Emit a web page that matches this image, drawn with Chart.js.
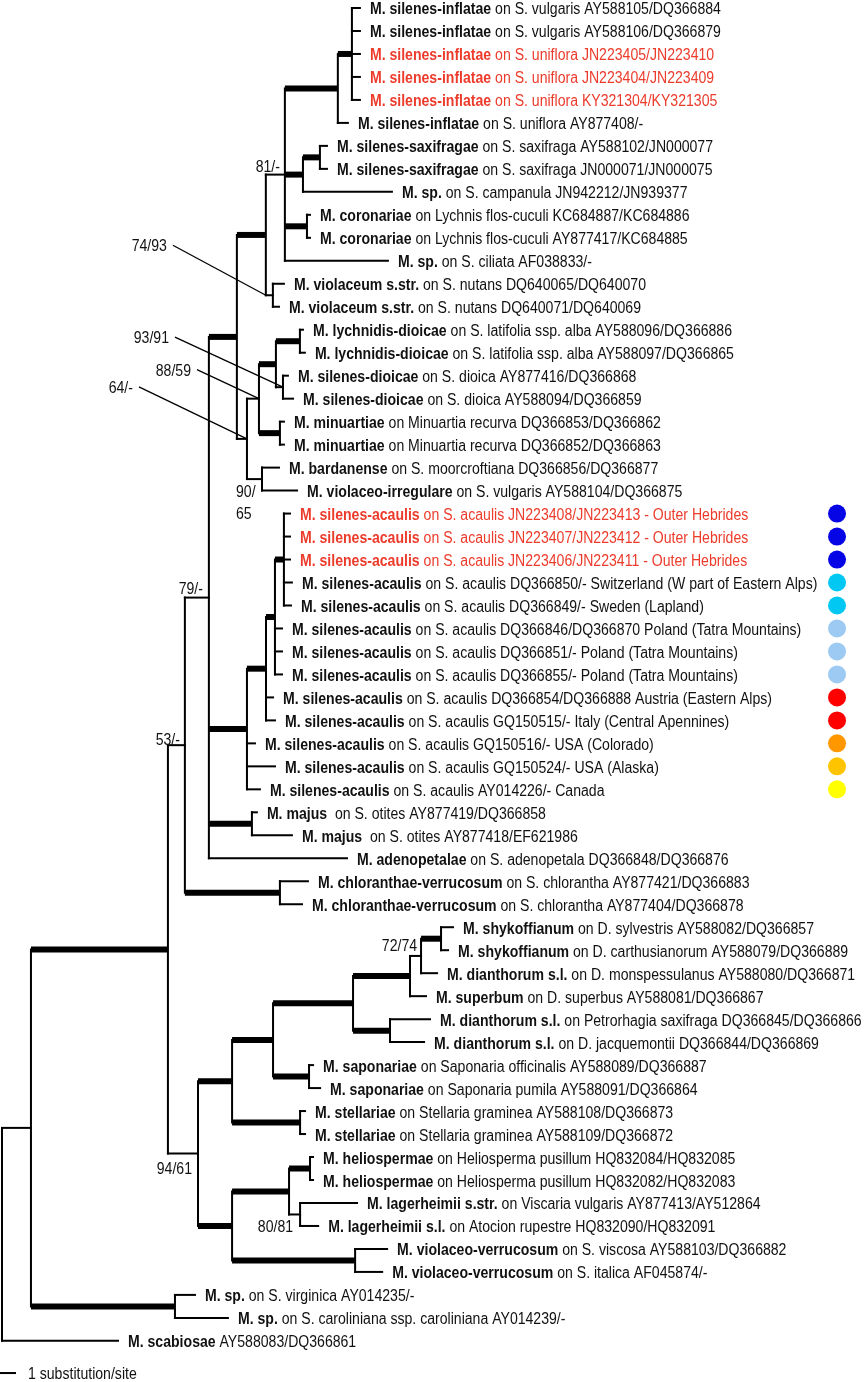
<!DOCTYPE html>
<html>
<head>
<meta charset="utf-8">
<script src="https://cdn.jsdelivr.net/npm/chart.js@4.4.1/dist/chart.umd.min.js"></script>
<style>
  html, body { margin: 0; padding: 0; background: #fff; }
  #wrap { width: 864px; height: 1382px; }
</style>
</head>
<body>
<div id="wrap"><canvas id="tree" width="864" height="1382"></canvas></div>
<script>
// ---- tips, top to bottom ----
const tipTaxon = [
  'M. silenes-inflatae', 'M. silenes-inflatae', 'M. silenes-inflatae', 'M. silenes-inflatae', 'M. silenes-inflatae',
  'M. silenes-inflatae', 'M. silenes-saxifragae', 'M. silenes-saxifragae', 'M. sp.', 'M. coronariae',
  'M. coronariae', 'M. sp.', 'M. violaceum s.str.', 'M. violaceum s.str.', 'M. lychnidis-dioicae',
  'M. lychnidis-dioicae', 'M. silenes-dioicae', 'M. silenes-dioicae', 'M. minuartiae', 'M. minuartiae',
  'M. bardanense', 'M. violaceo-irregulare', 'M. silenes-acaulis', 'M. silenes-acaulis', 'M. silenes-acaulis',
  'M. silenes-acaulis', 'M. silenes-acaulis', 'M. silenes-acaulis', 'M. silenes-acaulis', 'M. silenes-acaulis',
  'M. silenes-acaulis', 'M. silenes-acaulis', 'M. silenes-acaulis', 'M. silenes-acaulis', 'M. silenes-acaulis',
  'M. majus', 'M. majus', 'M. adenopetalae', 'M. chloranthae-verrucosum', 'M. chloranthae-verrucosum',
  'M. shykoffianum', 'M. shykoffianum', 'M. dianthorum s.l.', 'M. superbum', 'M. dianthorum s.l.',
  'M. dianthorum s.l.', 'M. saponariae', 'M. saponariae', 'M. stellariae', 'M. stellariae',
  'M. heliospermae', 'M. heliospermae', 'M. lagerheimii s.str.', 'M. lagerheimii s.l.', 'M. violaceo-verrucosum',
  'M. violaceo-verrucosum', 'M. sp.', 'M. sp.', 'M. scabiosae'
];
const tipDetail = [
  ' on S. vulgaris AY588105/DQ366884', ' on S. vulgaris AY588106/DQ366879',
  ' on S. uniflora JN223405/JN223410', ' on S. uniflora JN223404/JN223409',
  ' on S. uniflora KY321304/KY321305', ' on S. uniflora AY877408/-',
  ' on S. saxifraga AY588102/JN000077', ' on S. saxifraga JN000071/JN000075',
  ' on S. campanula JN942212/JN939377', ' on Lychnis flos-cuculi KC684887/KC684886',
  ' on Lychnis flos-cuculi AY877417/KC684885', ' on S. ciliata AF038833/-',
  ' on S. nutans DQ640065/DQ640070', ' on S. nutans DQ640071/DQ640069',
  ' on S. latifolia ssp. alba AY588096/DQ366886', ' on S. latifolia ssp. alba AY588097/DQ366865',
  ' on S. dioica AY877416/DQ366868', ' on S. dioica AY588094/DQ366859',
  ' on Minuartia recurva DQ366853/DQ366862', ' on Minuartia recurva DQ366852/DQ366863',
  ' on S. moorcroftiana DQ366856/DQ366877', ' on S. vulgaris AY588104/DQ366875',
  ' on S. acaulis JN223408/JN223413 - Outer Hebrides', ' on S. acaulis JN223407/JN223412 - Outer Hebrides',
  ' on S. acaulis JN223406/JN223411 - Outer Hebrides', ' on S. acaulis DQ366850/- Switzerland (W part of Eastern Alps)',
  ' on S. acaulis DQ366849/- Sweden (Lapland)', ' on S. acaulis DQ366846/DQ366870 Poland (Tatra Mountains)',
  ' on S. acaulis DQ366851/- Poland (Tatra Mountains)', ' on S. acaulis DQ366855/- Poland (Tatra Mountains)',
  ' on S. acaulis DQ366854/DQ366888 Austria (Eastern Alps)', ' on S. acaulis GQ150515/- Italy (Central Apennines)',
  ' on S. acaulis GQ150516/- USA (Colorado)', ' on S. acaulis GQ150524/- USA (Alaska)',
  ' on S. acaulis AY014226/- Canada', '  on S. otites AY877419/DQ366858',
  '  on S. otites AY877418/EF621986', ' on S. adenopetala DQ366848/DQ366876',
  ' on S. chlorantha AY877421/DQ366883', ' on S. chlorantha AY877404/DQ366878',
  ' on D. sylvestris AY588082/DQ366857', ' on D. carthusianorum AY588079/DQ366889',
  ' on D. monspessulanus AY588080/DQ366871', ' on D. superbus AY588081/DQ366867',
  ' on Petrorhagia saxifraga DQ366845/DQ366866', ' on D. jacquemontii DQ366844/DQ366869',
  ' on Saponaria officinalis AY588089/DQ366887', ' on Saponaria pumila AY588091/DQ366864',
  ' on Stellaria graminea AY588108/DQ366873', ' on Stellaria graminea AY588109/DQ366872',
  ' on Heliosperma pusillum HQ832084/HQ832085', ' on Heliosperma pusillum HQ832082/HQ832083',
  ' on Viscaria vulgaris AY877413/AY512864', ' on Atocion rupestre HQ832090/HQ832091',
  ' on S. viscosa AY588103/DQ366882', ' on S. italica AF045874/-',
  ' on S. virginica AY014235/-', ' on S. caroliniana ssp. caroliniana AY014239/-',
  ' AY588083/DQ366861'
];
// parent node of each tip and its branch length (substitutions/site)
const tipParent = [
  'N', 'N', 'N', 'N', 'N', 'K', 'O', 'O', 'L', 'Cor', 'Cor', 'J', 'Vio', 'Vio', 'T', 'T', 'U', 'U', 'V', 'V',
  'R', 'R', 'Z', 'Z', 'Z', 'Z', 'Z', 'Y', 'Y', 'Y', 'X', 'X', 'W', 'W', 'W', 'Maj', 'Maj', 'F', 'G', 'G',
  'FF', 'FF', 'EE', 'DD', 'GG', 'GG', 'HH', 'HH', 'II', 'II', 'LL', 'LL', 'MM', 'MM', 'NN', 'NN', 'C', 'C', 'root'
];
const tipLength = [
  0.5, 0.5, 0.5, 0.5, 0.5, 0.63, 0.44, 0.44, 5.56, 0.19, 0.19, 6.44, 0.69, 0.38, 0.19, 0.31, 0.31, 0.63, 0.25, 0.25,
  1.06, 2.19, 0.38, 0.38, 0.38, 0.5, 0.44, 0.44, 0.44, 0.44, 0.44, 0.56, 0.5, 1.75, 0.81, 0.31, 2.5, 8.63, 1.75, 1.38,
  0.75, 0.44, 1.0, 1.0, 2.5, 2.13, 0.25, 0.69, 0.31, 0.31, 0.19, 0.19, 3.56, 1.13, 2.0, 1.69, 1.25, 3.31, 7.25
];
// sequences new in this study (red)
const newTips = [2, 3, 4, 22, 23, 24];

// ---- internal nodes (parents listed before children) ----
const nodeId = ['root', 'A', 'B', 'C', 'D', 'E', 'F', 'G', 'H', 'I', 'J', 'K', 'N', 'L', 'O', 'Cor', 'Vio',
  'P', 'Q', 'R', 'S', 'T', 'U', 'V', 'W', 'X', 'Y', 'Z', 'Maj', 'AA', 'BB', 'CC', 'DD', 'EE', 'FF', 'GG',
  'HH', 'II', 'JJ', 'KK', 'LL', 'MM', 'NN'];
const nodeParent = [null, 'root', 'A', 'A', 'B', 'B', 'D', 'D', 'F', 'H', 'I', 'J', 'K', 'J', 'L', 'J', 'I',
  'H', 'P', 'P', 'Q', 'S', 'S', 'Q', 'F', 'W', 'X', 'Y', 'F', 'E', 'AA', 'BB', 'CC', 'DD', 'EE', 'CC',
  'BB', 'AA', 'E', 'JJ', 'KK', 'KK', 'JJ'];
const nodeLength = [0, 1.81, 8.56, 9.0, 1.06, 1.88, 1.5, 5.94, 1.75, 1.81, 1.19, 3.31, 0.88, 1.13, 1.06, 1.38, 0.44,
  0.63, 0.75, 0.94, 1.06, 1.5, 0.44, 1.31, 2.38, 1.19, 0.56, 0.56, 2.69, 2.13, 2.56, 5.0, 3.56, 0.69, 1.25, 2.31,
  2.25, 4.25, 2.13, 3.56, 1.31, 0.69, 7.69];
// strongly supported branches (thick)
const nodeStrong = [0, 0, 1, 1, 0, 0, 0, 1, 1, 1, 0, 1, 1, 1, 1, 1, 0,
  0, 0, 0, 1, 1, 0, 1, 1, 1, 1, 1, 1, 1, 1, 1, 1, 0, 1, 1,
  1, 1, 1, 1, 1, 0, 1];

// ---- support values ----
const supportNode = ['J', 'Vio', 'U', 'Q', 'P', 'R', 'F', 'D', 'EE', 'E', 'MM'];
const supportText = ['81/-', '74/93', '93/91', '88/59', '64/-', '90/\n65', '79/-', '53/-', '72/74', '94/61', '80/81'];

// ---- host region of the S. acaulis samples ----
const regionTips = [22, 23, 24, 25, 26, 27, 28, 29, 30, 31, 32, 33, 34];
const regionColors = ['#0505e6', '#0505e6', '#0505e6', '#00c8f2', '#00c8f2', '#9ccaf2', '#9ccaf2', '#9ccaf2',
  '#ff0000', '#ff0000', '#ff9800', '#ffc400', '#ffff00'];

const scaleBarLength = 1;
const scaleBarLabel = '1 substitution/site';

// ---- layout ----
const X_MIN = -0.125, X_MAX = 53.875;
const Y_MIN = -0.348, Y_MAX = 59.79;
const SCALE_ROW = 59.4;
const DOT_X = 52.19;
const TEXT_GAP = 10;
const FONT_PX = 16;
const FAMILY = '"Liberation Sans Narrow", "Arial Narrow", "Liberation Sans", Arial, sans-serif';
const RED = '#ec3b2b';
// label placement: offset from node (px), alignment, leader line
const supportPlace = {
  J:   { dx: -5,   dy: -9,  align: 'right' },
  Vio: { dx: -106, dy: -50, align: 'right', leader: 'stem' },
  U:   { dx: -114, dy: -50, align: 'right', leader: 'node' },
  Q:   { dx: -68,  dy: -29, align: 'right', leader: 'node' },
  P:   { dx: -114, dy: -52, align: 'right', leader: 'node' },
  R:   { dx: -26,  dy: 12,  align: 'left' },
  F:   { dx: -6,   dy: -10, align: 'right' },
  D:   { dx: -5,   dy: -6,  align: 'right' },
  EE:  { dx: -4,   dy: -11, align: 'right' },
  E:   { dx: -6,   dy: 14,  align: 'right' },
  MM:  { dx: -7,   dy: 12,  align: 'right' }
};

// node depths
const depth = {};
nodeId.forEach((id, k) => {
  const p = nodeParent[k];
  depth[id] = p === null ? 0 : depth[p] + nodeLength[k];
});
const tipDepth = tipParent.map((p, i) => depth[p] + tipLength[i]);

// node heights: midway between first and last child
const nodeY = {}, spanLo = {}, spanHi = {};
for (let k = nodeId.length - 1; k >= 0; k--) {
  const id = nodeId[k];
  const ys = [];
  tipParent.forEach((p, i) => { if (p === id) ys.push(i); });
  nodeParent.forEach((p, j) => { if (p === id) ys.push(nodeY[nodeId[j]]); });
  spanLo[id] = Math.min(...ys);
  spanHi[id] = Math.max(...ys);
  nodeY[id] = (spanLo[id] + spanHi[id]) / 2;
}

function segment(x0, y0, x1, y1, width) {
  return {
    data: [{ x: x0, y: y0 }, { x: x1, y: y1 }],
    showLine: true,
    borderColor: '#000',
    borderWidth: width,
    borderCapStyle: width > 3 ? 'butt' : 'square',
    pointRadius: 0,
    fill: false
  };
}

const datasets = [];
nodeId.forEach((id, k) => {
  datasets.push(segment(depth[id], spanLo[id], depth[id], spanHi[id], 2));
});
tipParent.forEach((p, i) => {
  datasets.push(segment(depth[p], i, tipDepth[i], i, 2));
});
nodeId.forEach((id, k) => {
  if (k === 0) return;
  datasets.push(segment(depth[nodeParent[k]], nodeY[id], depth[id], nodeY[id], nodeStrong[k] ? 6 : 2));
});
// scale bar
datasets.push(Object.assign(segment(X_MIN, SCALE_ROW, X_MIN + scaleBarLength, SCALE_ROW, 2), { borderCapStyle: 'butt' }));
// region dots
datasets.push({
  data: regionTips.map(i => ({ x: DOT_X, y: i })),
  showLine: false,
  pointRadius: 9,
  pointBorderWidth: 0,
  pointBackgroundColor: regionColors
});

let squeeze = null;
function font(bold) { return (bold ? 'bold ' : '') + FONT_PX + 'px ' + FAMILY; }

const treeLabels = {
  id: 'treeLabels',
  afterDatasetsDraw(chart) {
    const ctx = chart.ctx, xs = chart.scales.x, ys = chart.scales.y;
    ctx.save();
    if (squeeze === null) {
      ctx.font = font(true);
      const wb = ctx.measureText(tipTaxon[0]).width;
      ctx.font = font(false);
      const wr = ctx.measureText(tipDetail[0]).width;
      squeeze = 351 / (wb + wr);
    }
    ctx.textBaseline = 'alphabetic';

    function text(str, x, y, bold, color, align) {
      ctx.font = font(bold);
      const w = ctx.measureText(str).width * squeeze;
      const left = align === 'right' ? x - w : x;
      ctx.save();
      ctx.translate(left, y);
      ctx.scale(squeeze, 1);
      ctx.fillStyle = color;
      ctx.fillText(str, 0, 0);
      ctx.restore();
      return w;
    }

    // tip labels
    tipTaxon.forEach((name, i) => {
      const color = newTips.includes(i) ? RED : '#111';
      const x = xs.getPixelForValue(tipDepth[i]) + TEXT_GAP;
      const y = ys.getPixelForValue(i) + 6.5;
      const w = text(name, x, y, true, color, 'left');
      text(tipDetail[i], x + w, y, false, color, 'left');
    });

    // support values
    ctx.lineWidth = 1.3;
    ctx.strokeStyle = '#000';
    supportNode.forEach((id, k) => {
      const pl = supportPlace[id];
      const j = nodeId.indexOf(id);
      const nx = xs.getPixelForValue(depth[id]);
      const ny = ys.getPixelForValue(nodeY[id]);
      const lines = supportText[k].split('\n');
      lines.forEach((ln, li) => {
        text(ln, nx + pl.dx, ny + pl.dy + li * 22 + 6, false, '#111', pl.align);
      });
      if (pl.leader) {
        const tx = pl.leader === 'stem' ? xs.getPixelForValue(depth[nodeParent[j]]) : nx;
        ctx.beginPath();
        ctx.moveTo(nx + pl.dx + 6, ny + pl.dy);
        ctx.lineTo(tx, ny);
        ctx.stroke();
      }
    });

    // scale bar label
    text(scaleBarLabel, xs.getPixelForValue(X_MIN + scaleBarLength) + 12, ys.getPixelForValue(SCALE_ROW) + 6, false, '#111', 'left');
    ctx.restore();
  }
};

new Chart(document.getElementById('tree').getContext('2d'), {
  type: 'scatter',
  data: { datasets: datasets },
  options: {
    responsive: false,
    animation: false,
    events: [],
    layout: { padding: 0, autoPadding: false },
    plugins: { legend: { display: false }, tooltip: { enabled: false } },
    scales: {
      x: { type: 'linear', min: X_MIN, max: X_MAX, display: false },
      y: { type: 'linear', min: Y_MIN, max: Y_MAX, reverse: true, display: false }
    }
  },
  plugins: [treeLabels]
});
</script>
</body>
</html>
